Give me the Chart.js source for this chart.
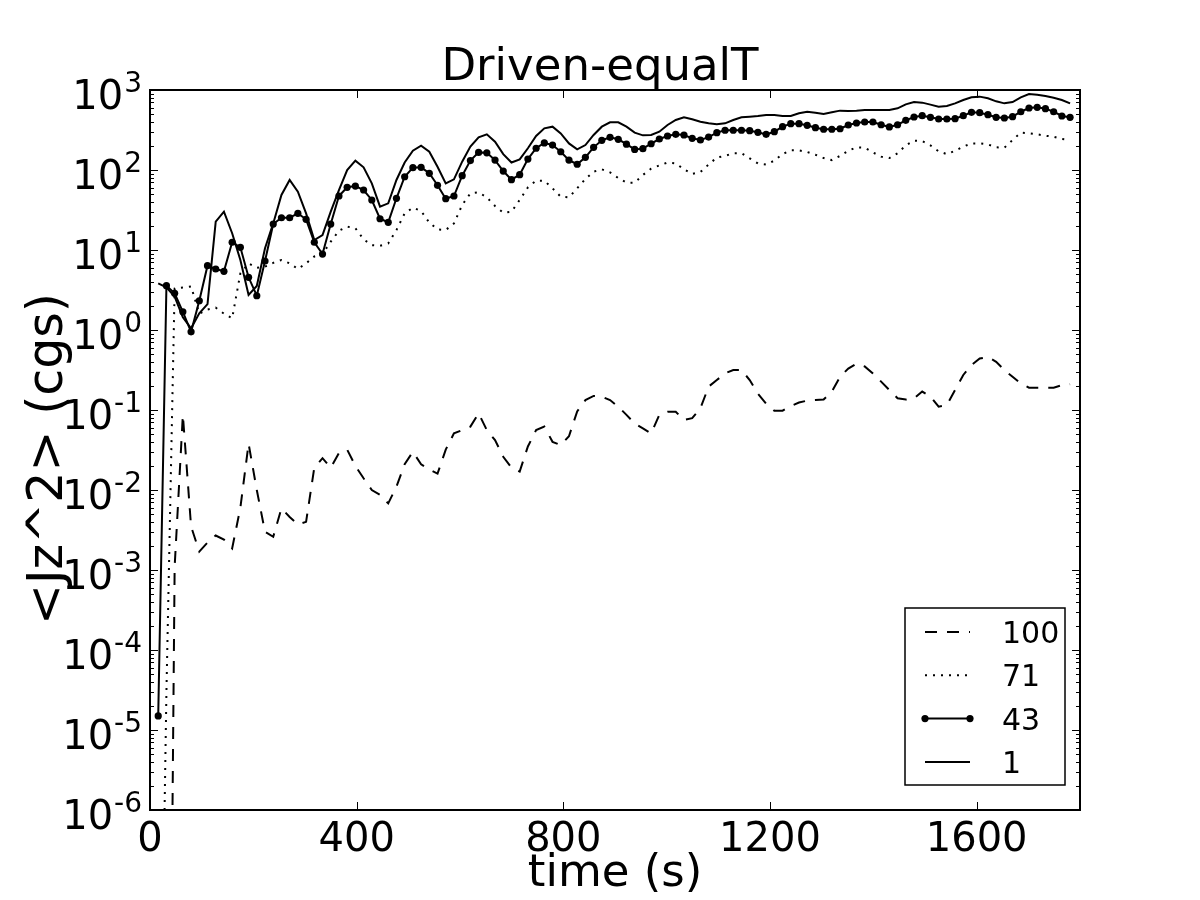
<!DOCTYPE html>
<html>
<head>
<meta charset="utf-8">
<title>Driven-equalT</title>
<script src="https://cdn.jsdelivr.net/npm/chart.js@4.4.1/dist/chart.umd.min.js"></script>
<style>
  html, body { margin: 0; padding: 0; background: #fff; }
  #wrap { width: 1200px; height: 900px; }
</style>
</head>
<body>
<div id="wrap"><canvas id="jzChart" width="1200" height="900"></canvas></div>
<script>
// sample spacing of the simulation output (s)
var DT = 15.9;

// <Jz^2> for each run, one value per output step
var series100 = [
  1e-15, 3e-15, 1.1e-3, 0.087, 3.5e-3, 1.7e-3, 2.2e-3, 2.7e-3, 2.4e-3, 1.86e-3,
  6e-3, 0.038, 0.01, 3.0e-3, 2.6e-3, 5.9e-3, 4.6e-3, 3.7e-3, 4e-3, 0.019,
  0.025, 0.019, 0.029, 0.032, 0.020, 0.014, 0.010, 0.0087, 0.0068, 0.011,
  0.021, 0.030, 0.021, 0.018, 0.016, 0.032, 0.051, 0.056, 0.062, 0.091,
  0.056, 0.042, 0.026, 0.019, 0.017, 0.035, 0.056, 0.062, 0.040, 0.0365,
  0.047, 0.096, 0.133, 0.15, 0.147, 0.133,
  0.11, 0.087, 0.068, 0.059, 0.051, 0.087, 0.095, 0.095, 0.075, 0.079,
  0.105, 0.196, 0.237, 0.287, 0.316, 0.316, 0.237, 0.16, 0.12, 0.098,
  0.098, 0.112, 0.124, 0.131, 0.133, 0.135, 0.17, 0.26, 0.33, 0.38,
  0.35, 0.287, 0.226, 0.178, 0.14, 0.135, 0.14, 0.17, 0.147, 0.11,
  0.115, 0.178, 0.274, 0.365, 0.44, 0.46, 0.40, 0.316, 0.26, 0.215,
  0.19, 0.19, 0.19, 0.19, 0.205, 0.21
];

var series71 = [
  1e-11, 3e-5, 3.3, 3.4, 3.5, 1.6, 1.8, 1.9, 1.6, 1.4,
  5.1, 6.8, 6.0, 6.2, 6.9, 7.5, 6.8, 5.8, 6.8, 8.3,
  8.9, 12.7, 17.4, 19.6, 18.7, 13.6, 11.5, 11.3, 12.1, 17.8,
  28.7, 33.8, 30.7, 22.0, 18.1, 17.8, 21.5, 36.5, 51, 52.6,
  45.5, 35.5, 29.3, 30.1, 42.2, 60.7, 73.6, 73.6, 59, 46.4,
  45.5, 59, 77.2, 95.3, 102, 93.5, 79.4, 69.5, 69.5, 86.6,
  104, 114, 124, 121, 102, 89.1, 94.4, 117, 143, 150,
  162, 162, 140, 121, 117, 131, 158, 176, 176, 168,
  155, 141, 133, 150, 174, 192, 190, 166, 147, 141,
  162, 203, 233, 230, 203, 171, 158, 174, 196, 215,
  215, 209, 192, 190, 237, 293, 287, 279, 268, 261,
  244, 237
];

var series43 = [
  1.5e-5,
  3.58, 2.88, 1.69, 0.95, 2.32, 6.36, 5.79, 5.42, 12.5, 10.8,
  4.56, 2.68, 7.29, 21.1, 25.3, 25.3, 28.7, 24.2, 12.5, 8.9,
  21.1, 47.3, 60.8, 63, 56.2, 42.2, 24.6, 22.2, 44.3, 82.4,
  107, 108, 91, 64.4, 43.8, 47.3, 84.9, 131,
  166, 164, 133, 97, 75.6, 87.4, 137, 187, 218, 205,
  169, 133, 118, 144, 192, 235, 256, 242, 210, 181,
  185, 213, 244, 266, 279, 274, 249, 237, 258, 293,
  314, 314, 314, 310, 296, 279, 301,
  348, 379, 379, 362, 338, 323, 323, 328, 365, 387,
  398, 398, 368, 345, 368, 418, 460, 478, 456, 434,
  434, 438, 478, 526, 520, 491, 456, 447, 464, 535,
  596, 608, 584, 535, 473, 456
];

var series1 = [
  3.83, 3.41, 2.61, 1.44, 1.05, 1.62, 2.11, 22.6, 30.1, 16.2,
  7.5, 2.74, 3.55, 10.5, 21.5, 48.7, 75, 53.6, 28.7, 13.3,
  15.4, 30.1, 56.2, 100, 131, 108, 68.1, 34.8, 38.3, 75,
  124, 174, 201, 169, 110, 68.1, 76.4, 127, 196,
  256, 279, 226, 158, 124, 136, 187, 266, 332, 348,
  287, 215, 181, 205, 274, 348, 394, 394, 348, 293,
  271, 274, 301, 365, 422, 455, 430, 402, 383, 372,
  383, 422, 455, 464, 473, 487, 487,
  473, 473, 511, 536, 521, 501, 526, 552, 546, 552,
  562, 562, 562, 562, 590, 662, 708, 695, 656, 619,
  631, 681, 750, 810, 826, 787, 722, 681, 708, 810,
  891, 874, 841, 802, 750, 681
];

var runLabels = ['100', '71', '43', '1'];
var xTickValues = [0, 400, 800, 1200, 1600];
var yDecades = [-6, -5, -4, -3, -2, -1, 0, 1, 2, 3];

var times = series1.map(function(_, i) { return +(DT * (i + 1)).toFixed(2); });

function toPoints(arr) {
    return arr.map(function(v, i) { return { x: times[i], y: v }; });
}

var FONT = '"DejaVu Sans", "Liberation Sans", sans-serif';

// draws the matplotlib-style frame, inward ticks, labels and legend
var mplDecor = {
    id: 'mplDecor',
    beforeDraw: function(chart) {
        var c = chart.ctx;
        c.save();
        c.fillStyle = '#fff';
        c.fillRect(0, 0, chart.width, chart.height);
        c.restore();
    },
    afterDraw: function(chart) {
        var c = chart.ctx;
        var a = chart.chartArea;
        var xs = chart.scales.x, ys = chart.scales.y;
        c.save();
        c.strokeStyle = '#000';
        c.fillStyle = '#000';

        function seg(x1, y1, x2, y2) {
            c.beginPath(); c.moveTo(x1, y1); c.lineTo(x2, y2); c.stroke();
        }

        // ticks, pointing inward on all four sides
        c.lineWidth = 1;
        xTickValues.forEach(function(v) {
            var px = Math.round(xs.getPixelForValue(v)) + 0.5;
            seg(px, a.bottom, px, a.bottom - 8);
            seg(px, a.top, px, a.top + 8);
        });
        yDecades.forEach(function(e) {
            var py = Math.round(ys.getPixelForValue(Math.pow(10, e))) + 0.5;
            seg(a.left, py, a.left + 8, py);
            seg(a.right, py, a.right - 8, py);
            if (e < 3) {
                for (var m = 2; m <= 9; m++) {
                    var pm = Math.round(ys.getPixelForValue(m * Math.pow(10, e))) + 0.5;
                    seg(a.left, pm, a.left + 4, pm);
                    seg(a.right, pm, a.right - 4, pm);
                }
            }
        });

        // frame
        c.lineWidth = 2;
        c.strokeRect(a.left, a.top, a.right - a.left, a.bottom - a.top);

        // x tick labels
        c.font = '40px ' + FONT;
        c.textAlign = 'center';
        c.textBaseline = 'alphabetic';
        xTickValues.forEach(function(v) {
            c.fillText(String(v), xs.getPixelForValue(v), a.bottom + 41);
        });

        // y tick labels: 10 with a raised exponent
        var rightEdge = a.left - 8;
        yDecades.forEach(function(e) {
            var py = ys.getPixelForValue(Math.pow(10, e));
            var expText = String(e);
            c.font = '28px ' + FONT;
            c.textAlign = 'right';
            var ew = c.measureText(expText).width;
            c.fillText(expText, rightEdge, py + 2);
            c.font = '40px ' + FONT;
            c.fillText('10', rightEdge - ew - 1, py + 19);
        });

        // axis titles and title
        c.textAlign = 'center';
        c.font = '45px ' + FONT;
        c.fillText('time (s)', (a.left + a.right) / 2, 886);
        c.fillText('Driven-equalT', 600, 80);

        c.save();
        c.translate(62, (a.top + a.bottom) / 2 + 9);
        c.rotate(-Math.PI / 2);
        c.font = '49px ' + FONT;
        c.fillText('<Jz^2> (cgs)', 0, 0);
        c.restore();

        // legend
        var lx = 905, ly = 608, lw = 160, lh = 177;
        c.fillStyle = '#fff';
        c.fillRect(lx, ly, lw, lh);
        c.fillStyle = '#000';
        c.lineWidth = 1.5;
        c.strokeRect(lx, ly, lw, lh);
        chart.data.datasets.forEach(function(ds, i) {
            var rowY = 632 + i * 43.3;
            c.lineWidth = ds.borderWidth;
            c.setLineDash(ds.borderDash || []);
            c.lineCap = 'butt';
            seg(925, rowY, 970, rowY);
            c.setLineDash([]);
            if (ds.pointRadius > 0) {
                [925, 970].forEach(function(px) {
                    c.beginPath();
                    c.arc(px, rowY, ds.pointRadius, 0, Math.PI * 2);
                    c.fill();
                });
            }
            c.font = '30px ' + FONT;
            c.textAlign = 'left';
            c.fillText(ds.label, 1002, rowY + 11);
        });

        c.restore();
    }
};

var ctx = document.getElementById('jzChart').getContext('2d');

var chart = new Chart(ctx, {
    type: 'line',
    data: {
        datasets: [
            { label: runLabels[0], data: toPoints(series100), borderColor: '#000', borderWidth: 2,
              borderDash: [12, 10], pointRadius: 0 },
            { label: runLabels[1], data: toPoints(series71), borderColor: '#000', borderWidth: 2,
              borderDash: [2, 6], pointRadius: 0 },
            { label: runLabels[2], data: toPoints(series43), borderColor: '#000', borderWidth: 2,
              pointRadius: 3.6, pointBackgroundColor: '#000', pointBorderWidth: 0 },
            { label: runLabels[3], data: toPoints(series1), borderColor: '#000', borderWidth: 2,
              pointRadius: 0 }
        ]
    },
    options: {
        responsive: false,
        animation: false,
        devicePixelRatio: 1,
        layout: { padding: { left: 150, right: 120, top: 90, bottom: 90 } },
        elements: { line: { tension: 0, fill: false, borderCapStyle: 'butt' } },
        scales: {
            x: { type: 'linear', min: 0, max: 1800, display: false },
            y: { type: 'logarithmic', min: 1e-6, max: 1e3, display: false }
        },
        plugins: {
            legend: { display: false },
            tooltip: { enabled: false }
        }
    },
    plugins: [mplDecor]
});
</script>
</body>
</html>
